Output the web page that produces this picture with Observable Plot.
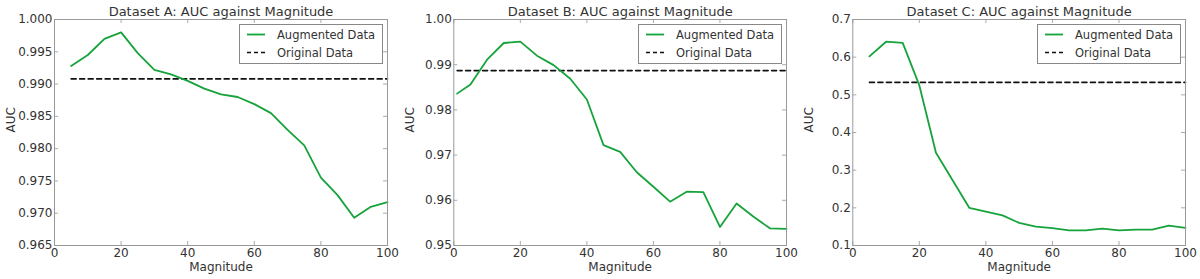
<!DOCTYPE html>
<html><head><meta charset="utf-8">
<script src="https://cdn.jsdelivr.net/npm/d3@7"></script>
<script src="https://cdn.jsdelivr.net/npm/@observablehq/plot@0.6"></script>
<style>
body{margin:0;background:#fff;}
#wrap{position:relative;width:1200px;height:279px;font-family:"DejaVu Sans",sans-serif;}
.panel{position:absolute;top:0;width:400px;height:279px;}
</style></head><body><div id="wrap"></div>
<script>
// ---- data ----
const xTicks = [0, 20, 40, 60, 80, 100];
const seriesNames = ["Augmented Data", "Original Data"];

const titleA = "Dataset A: AUC against Magnitude";
const magA = [5,10,15,20,25,30,35,40,45,50,55,60,65,70,75,80,85,90,95,100];
const aucA = [0.9928,0.9945,0.9970,0.9980,0.9948,0.9922,0.9915,0.9905,0.9893,0.9884,0.9880,0.9869,0.9855,0.9829,0.9805,0.9755,0.9728,0.9693,0.9710,0.9717];
const origA = 0.9908;
const yDomainA = [0.965, 1.000];
const yTicksA = [0.965,0.970,0.975,0.980,0.985,0.990,0.995,1.000];

const titleB = "Dataset B: AUC against Magnitude";
const magB = [1,5,10,15,20,25,30,35,40,45,50,55,60,65,70,75,80,85,90,95,100];
const aucB = [0.9836,0.9856,0.9911,0.9948,0.9951,0.9920,0.9899,0.9869,0.9823,0.9722,0.9707,0.9662,0.9630,0.9597,0.9619,0.9618,0.9541,0.9593,0.9564,0.9538,0.9537];
const origB = 0.9887;
const yDomainB = [0.95, 1.00];
const yTicksB = [0.95,0.96,0.97,0.98,0.99,1.00];

const titleC = "Dataset C: AUC against Magnitude";
const magC = [5,10,15,20,25,30,35,40,45,50,55,60,65,70,75,80,85,90,95,100];
const aucC = [0.602,0.641,0.638,0.525,0.346,0.273,0.200,0.190,0.180,0.160,0.150,0.146,0.140,0.140,0.145,0.140,0.142,0.142,0.153,0.147];
const origC = 0.533;
const yDomainC = [0.1, 0.7];
const yTicksC = [0.1,0.2,0.3,0.4,0.5,0.6,0.7];

// ---- layout ----
const panels = [
  {title: titleA, mag: magA, auc: aucA, orig: origA, yDomain: yDomainA, yTicks: yTicksA, fmt: ".3f", ml: 54, mr: 13, left: 0},
  {title: titleB, mag: magB, auc: aucB, orig: origB, yDomain: yDomainB, yTicks: yTicksB, fmt: ".2f", ml: 53.3, mr: 14, left: 400},
  {title: titleC, mag: magC, auc: aucC, orig: origC, yDomain: yDomainC, yTicks: yTicksC, fmt: ".1f", ml: 52.3, mr: 15, left: 800}
];
const W = 400, H = 279, mt = 19, mb = 34;
const green = "#17a33b";
const font = "'DejaVu Sans', sans-serif";
const wrap = document.getElementById("wrap");

for (const p of panels) {
  const fh = H - mt - mb, fw = W - p.ml - p.mr;
  const lineData = p.mag.map((m, i) => ({m, v: p.auc[i]}));
  const origData = [{m: p.mag[0], v: p.orig}, {m: p.mag[p.mag.length - 1], v: p.orig}];
  const chart = Plot.plot({
    width: W, height: H,
    marginLeft: p.ml, marginRight: p.mr, marginTop: mt, marginBottom: mb,
    style: {fontFamily: font, fontSize: "12px", color: "#333", background: "transparent", overflow: "visible"},
    x: {domain: [0, 100]},
    y: {domain: p.yDomain},
    marks: [
      Plot.lineY(origData, {x: "m", y: "v", stroke: "#111", strokeWidth: 1.6, strokeDasharray: "5,3.5"}),
      Plot.lineY(lineData, {x: "m", y: "v", stroke: green, strokeWidth: 1.8}),
      Plot.tickX(xTicks, {x: d => d, stroke: "#aaa", insetTop: fh - 4}),
      Plot.tickX(xTicks, {x: d => d, stroke: "#aaa", insetBottom: fh - 4}),
      Plot.tickY(p.yTicks, {y: d => d, stroke: "#aaa", insetRight: fw - 4}),
      Plot.tickY(p.yTicks, {y: d => d, stroke: "#aaa", insetLeft: fw - 4}),
      Plot.frame({stroke: "#999"}),
      Plot.axisX(xTicks, {tickSize: 0, tickPadding: 3, label: null, fontSize: 12}),
      Plot.axisY(p.yTicks, {tickSize: 0, tickPadding: 2, label: null, tickFormat: d3.format(p.fmt), fontSize: 12}),
      Plot.text([p.title], {frameAnchor: "top", lineAnchor: "bottom", dy: -4, text: d => d, fontSize: 13}),
      Plot.text(["Magnitude"], {frameAnchor: "bottom", lineAnchor: "top", dy: 17, text: d => d, fontSize: 12}),
      Plot.text(["AUC"], {frameAnchor: "left", rotate: -90, dx: -43.5, text: d => d, fontSize: 12})
    ]
  });
  // legend
  const svg = d3.select(chart);
  const lw = 143, lh = 39;
  const lx = W - p.mr - 5 - lw, ly = 24;
  const g = svg.append("g").attr("transform", `translate(${lx},${ly})`).attr("text-anchor", "start");
  g.append("rect").attr("x", 0.5).attr("y", 0.5).attr("width", lw).attr("height", lh)
    .attr("fill", "#fff").attr("stroke", "#888");
  g.append("line").attr("x1", 8).attr("x2", 26).attr("y1", 10.5).attr("y2", 10.5)
    .attr("stroke", green).attr("stroke-width", 1.8);
  g.append("line").attr("x1", 8).attr("x2", 26).attr("y1", 28.5).attr("y2", 28.5)
    .attr("stroke", "#111").attr("stroke-width", 1.6).attr("stroke-dasharray", "4,3");
  seriesNames.forEach((s, i) => {
    g.append("text").attr("x", 38).attr("y", i === 0 ? 10.5 : 28.5).attr("dy", "0.35em")
      .attr("text-anchor", "start")
      .attr("font-size", 11.5).attr("font-family", font).attr("fill", "#333").text(s);
  });
  const div = document.createElement("div");
  div.className = "panel";
  div.style.left = p.left + "px";
  div.appendChild(chart);
  wrap.appendChild(div);
}
</script></body></html>
